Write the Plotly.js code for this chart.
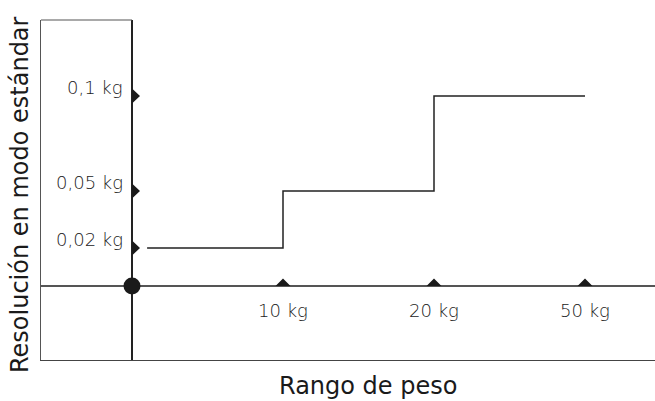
<!DOCTYPE html>
<html><head><meta charset="utf-8">
<script src="https://cdn.plot.ly/plotly-3.0.1.min.js"></script>
<style>html,body{margin:0;padding:0;background:#fff}#chart{width:655px;height:401px}</style>
</head><body><div id="chart"></div>
<script>
// ---- data ----
const rangeLabels = ['10 kg', '20 kg', '50 kg'];
const rangePositions = [1, 2, 3];
const resolutionLabels = ['0,02 kg', '0,05 kg', '0,1 kg'];
const resolutionValues = [0.02, 0.05, 0.1];
const stepX = [0.1, 1, 2, 3];
const stepY = [0.02, 0.05, 0.1, 0.1];
const xTitle = 'Rango de peso';
const yTitle = 'Resolución en modo estándar';

// ---- geometry (style) ----
const W = 655, H = 401, mL = 41, mR = 0, mT = 20, mB = 41;
const plotW = W - mL - mR, plotH = H - mT - mB;
const originPx = 132 - mL, originPy = 360 - 286; // from left / from bottom
const pxX = 151, pxY = 1900;   // pixels per data unit
const xR = [-originPx / pxX, (plotW - originPx) / pxX];
const yR = [-originPy / pxY, (plotH - originPy) / pxY];

// tick-marker triangle sizes in pixels, converted to data units
const triHalfBase = 7.5, triHeight = 7.5, triDepth = 8;

const ink = '#1a1a1a';
const labelFont = {family: 'DejaVu Sans', size: 18, color: '#222', weight: 200};
const titleFont = {family: 'DejaVu Sans', size: 24, color: ink, weight: 500};

// up-pointing triangles sitting on the x axis at each range position
const upX = [], upY = [];
rangePositions.forEach(p => {
  upX.push(p - triHalfBase / pxX, p + triHalfBase / pxX, p, p - triHalfBase / pxX, null);
  upY.push(0, 0, triHeight / pxY, 0, null);
});
// right-pointing triangles sitting on the y axis at each resolution value
const rtX = [], rtY = [];
resolutionValues.forEach(v => {
  rtX.push(0, 0, triDepth / pxX, 0, null);
  rtY.push(v - triHalfBase / pxY, v + triHalfBase / pxY, v, v - triHalfBase / pxY, null);
});

const traces = [
  {x: stepX, y: stepY, mode: 'lines', line: {shape: 'hv', color: '#222', width: 1.5}, hoverinfo: 'skip'},
  {x: upX, y: upY, mode: 'lines', fill: 'toself', fillcolor: ink, line: {width: 0, color: ink}, hoverinfo: 'skip'},
  {x: rtX, y: rtY, mode: 'lines', fill: 'toself', fillcolor: ink, line: {width: 0, color: ink}, hoverinfo: 'skip'},
  {x: [0], y: [0], mode: 'markers', marker: {symbol: 'circle', size: 17, color: ink}, hoverinfo: 'skip'}
];

const annotations = [];
rangeLabels.forEach((t, i) => annotations.push({
  x: rangePositions[i], y: 0, xref: 'x', yref: 'y', text: t, showarrow: false,
  xanchor: 'center', yanchor: 'middle', yshift: -24, font: labelFont
}));
resolutionLabels.forEach((t, i) => annotations.push({
  x: 0, y: resolutionValues[i], xref: 'x', yref: 'y', text: t, showarrow: false,
  xanchor: 'right', yanchor: 'middle', xshift: -7, yshift: 9, font: labelFont
}));
annotations.push({x: (368 - mL) / plotW, y: -(386 - 360) / plotH, xref: 'paper', yref: 'paper', text: xTitle, showarrow: false,
  xanchor: 'center', yanchor: 'middle', font: titleFont});
annotations.push({x: -(mL - 20) / plotW, y: (360 - 195) / plotH, xref: 'paper', yref: 'paper', text: yTitle, textangle: -90, showarrow: false,
  xanchor: 'center', yanchor: 'middle', font: titleFont});

const axisCommon = {showgrid: false, showticklabels: false, ticks: '', fixedrange: true};
const layout = {
  width: W, height: H, margin: {l: mL, r: mR, t: mT, b: mB, pad: 0},
  paper_bgcolor: '#fff', plot_bgcolor: '#fff', showlegend: false,
  xaxis: Object.assign({}, axisCommon, {range: xR, zeroline: true, zerolinecolor: '#222', zerolinewidth: 1.3,
    showline: true, linecolor: '#444', linewidth: 1.2, mirror: false}),
  yaxis: Object.assign({}, axisCommon, {range: yR, zeroline: true, zerolinecolor: '#555', zerolinewidth: 1.2,
    showline: true, linecolor: '#555', linewidth: 1.2}),
  shapes: [{type: 'line', xref: 'x', yref: 'paper', x0: xR[0], x1: 0, y0: 1, y1: 1, line: {color: '#555', width: 1.2}}],
  annotations: annotations
};
Plotly.newPlot('chart', traces, layout, {staticPlot: true, displayModeBar: false});
</script></body></html>
